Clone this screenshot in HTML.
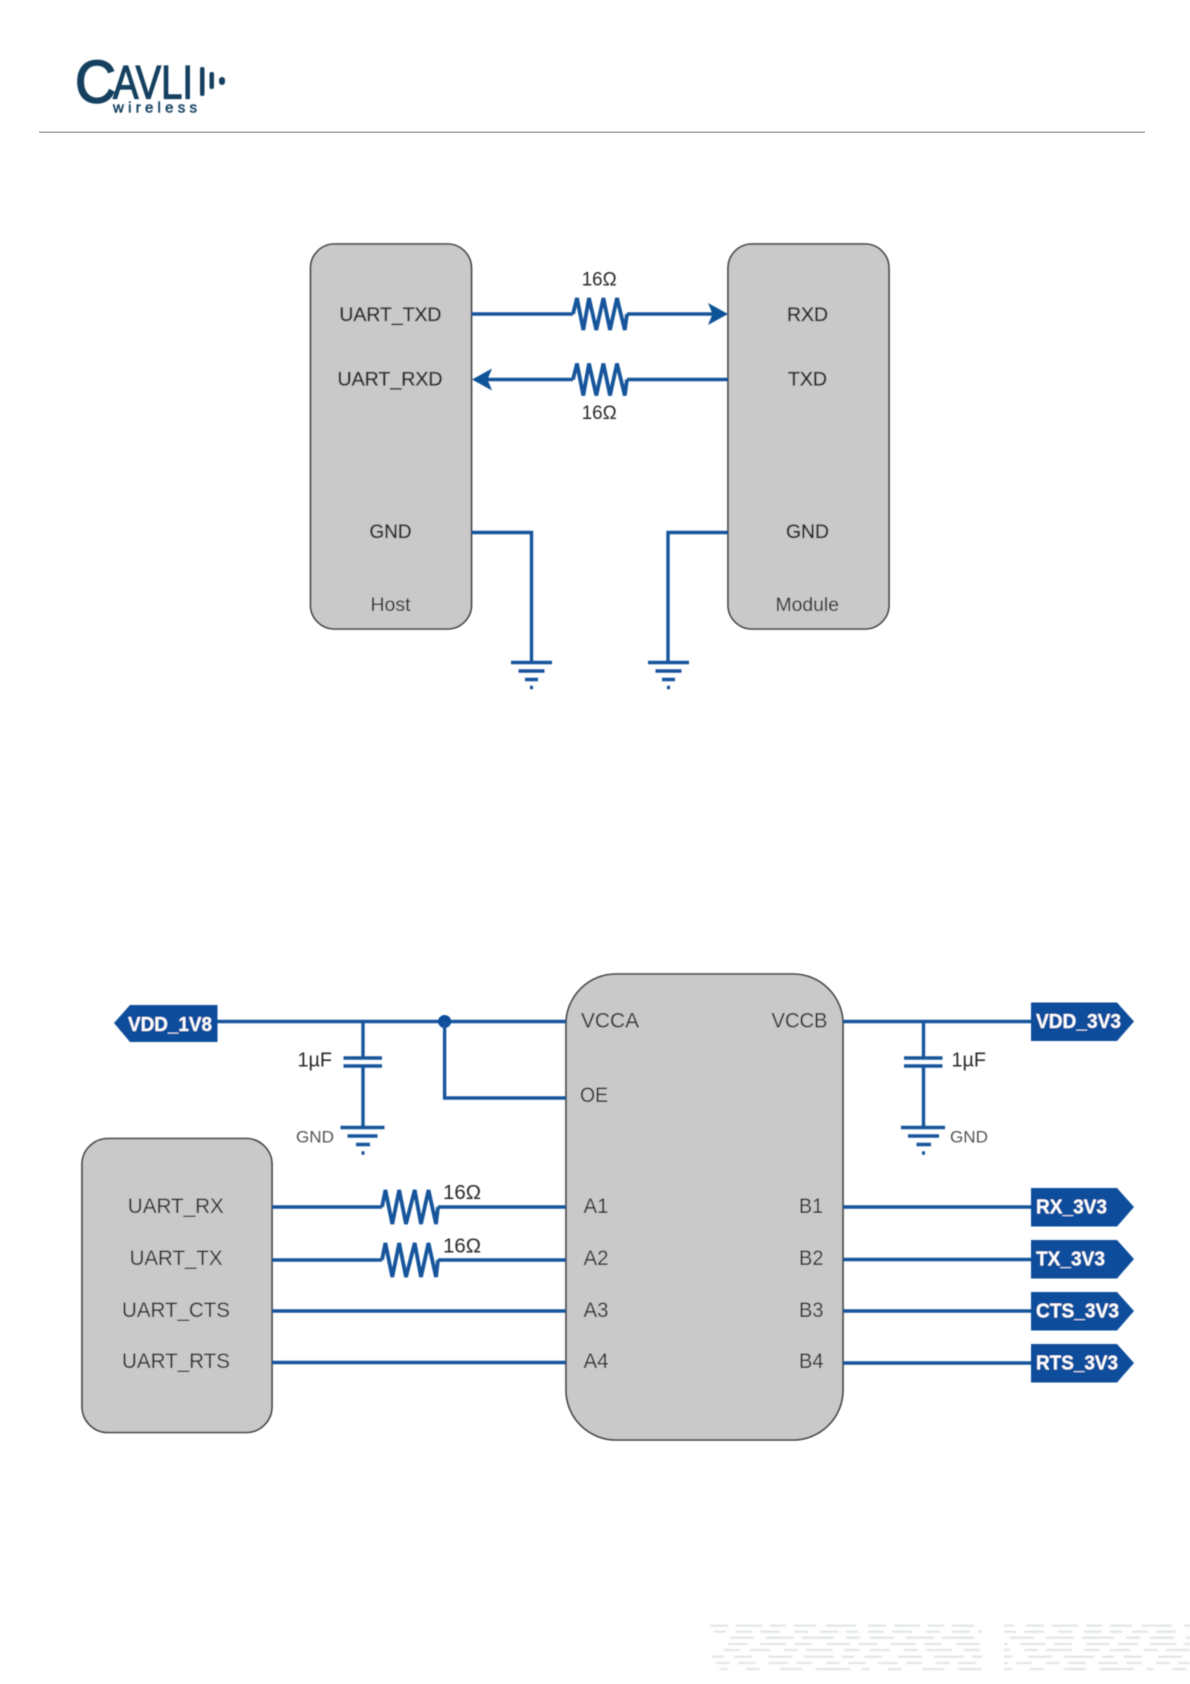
<!DOCTYPE html>
<html>
<head>
<meta charset="utf-8">
<style>
html,body{margin:0;padding:0;background:#fff;width:1190px;height:1684px;overflow:hidden}
svg{display:block}
text{font-family:"Liberation Sans",sans-serif;fill:#2a2a2a}
.top text{stroke:#222;stroke-width:.35}
.w{fill:none;stroke:#14559b;stroke-width:3.4;stroke-linejoin:miter}
.r{fill:none;stroke:#14559b;stroke-width:3.8;stroke-linejoin:miter}
.b{fill:#c9c9c9;stroke:#3a3a3a;stroke-width:1.6}
.t{fill:#0a4d9b}
.tt{fill:#fff;font-weight:bold;font-size:20px}
.g{stroke:#14559b;stroke-width:3.4;fill:none}
.l{fill:#123f5e;stroke:#123f5e}
</style>
</head>
<body>
<svg width="1190" height="1684" viewBox="0 0 1190 1684" xmlns="http://www.w3.org/2000/svg">
<defs><filter id="s" x="-5%" y="-5%" width="110%" height="110%"><feGaussianBlur stdDeviation="0.45"/></filter>
<filter id="f" x="-5%" y="-20%" width="110%" height="140%"><feGaussianBlur stdDeviation="0.8"/></filter></defs>

<!-- logo -->
<g filter="url(#s)">
<text class="l" stroke-width="1.6" x="75" y="102.5" font-size="60" textLength="41" lengthAdjust="spacingAndGlyphs" style="stroke-width:1.6px">C</text>
<text class="l" x="113" y="98.5" font-size="47" textLength="80" lengthAdjust="spacingAndGlyphs" style="stroke-width:1.2px">AVLI</text>
<rect x="200" y="67" width="4.5" height="29" rx="2" fill="#123f5e"/>
<rect x="209.5" y="72" width="4.5" height="17" rx="2" fill="#123f5e"/>
<rect x="219" y="77" width="6" height="8" rx="3" fill="#123f5e"/>
<text class="l" x="113" y="112.5" font-size="15" textLength="84" style="stroke-width:.5px">wireless</text>
</g>
<rect x="39" y="131.5" width="1106" height="1.5" fill="#aaaaaa"/>

<g filter="url(#s)">
<!-- top diagram -->
<rect class="b" x="310.5" y="244" width="161" height="385" rx="24"/>
<rect class="b" x="728" y="244" width="161" height="385" rx="24"/>

<path class="w" d="M471.5 314H573M627 314H716"/>
<path class="r" d="M573 314L577 298L583.3 330L589 298L596.3 330L603.4 298L610 330L617 298L624.8 330L627 314"/>
<path d="M728 314L708 303L712.5 314L708 325Z" fill="#0f5298"/>
<path class="w" d="M728 379.5H627M573 379.5H484"/>
<path class="r" d="M627 379.5L624.8 395.5L617 363.5L610 395.5L603.4 363.5L596.3 395.5L589 363.5L583.3 395.5L577 363.5L573 379.5"/>
<path d="M472 379.5L492 368.5L487.5 379.5L492 390.5Z" fill="#0f5298"/>

<path class="w" d="M471.5 532.5H531.5V662"/>
<path class="g" d="M511 662.5H552M518.5 671H544.5M525 679.5H538M530 687.5H533"/>
<path class="w" d="M728 532.5H668V662"/>
<path class="g" d="M648 662.5H689M655.5 671H681.5M662 679.5H675M667 687.5H670"/>

<g class="top">
<text x="339.4" y="321" font-size="19" textLength="102" lengthAdjust="spacingAndGlyphs">UART_TXD</text>
<text x="337.5" y="385.5" font-size="19" textLength="105" lengthAdjust="spacingAndGlyphs">UART_RXD</text>
<text x="369.5" y="538" font-size="19" textLength="42" lengthAdjust="spacingAndGlyphs">GND</text>
<text x="787" y="321" font-size="19" textLength="41" lengthAdjust="spacingAndGlyphs">RXD</text>
<text x="788" y="385.5" font-size="19" textLength="39" lengthAdjust="spacingAndGlyphs">TXD</text>
<text x="786" y="538" font-size="19" textLength="43" lengthAdjust="spacingAndGlyphs">GND</text>
</g>
<text x="370.5" y="611" font-size="19" textLength="40" lengthAdjust="spacingAndGlyphs">Host</text>
<text x="775.5" y="611" font-size="19" textLength="63.5" lengthAdjust="spacingAndGlyphs">Module</text>
<text x="581.7" y="285.5" font-size="19" textLength="35" lengthAdjust="spacingAndGlyphs">16Ω</text>
<text x="581.7" y="419" font-size="19" textLength="35" lengthAdjust="spacingAndGlyphs">16Ω</text>

<!-- bottom diagram -->
<rect class="b" x="82" y="1138.5" width="190" height="294" rx="26"/>
<rect class="b" x="566" y="974" width="277" height="466" rx="50"/>

<path class="w" d="M217 1021.5H566"/>
<circle cx="444.6" cy="1021.5" r="6.5" fill="#0a4d9b"/>
<path class="w" d="M444.6 1021.5V1098H566"/>
<path class="t" d="M114 1023L130 1005H217.5V1042H130Z"/>
<text class="tt" x="128" y="1031" textLength="84" lengthAdjust="spacingAndGlyphs">VDD_1V8</text>

<path class="w" d="M363 1021.5V1058M363 1066V1127"/>
<path class="g" d="M343.5 1058H382M343.5 1066H382"/>
<path class="g" d="M340.5 1127.5H384.5M347.5 1136H377.5M356 1144.5H370M361.5 1153H364.5"/>
<text x="297.5" y="1066.5" font-size="20" textLength="34.5" lengthAdjust="spacingAndGlyphs">1µF</text>
<text x="296" y="1142.5" font-size="16.5" textLength="38" lengthAdjust="spacingAndGlyphs" style="fill:#555">GND</text>

<path class="w" d="M923.5 1021.5V1058M923.5 1066V1127"/>
<path class="g" d="M904 1058H942.5M904 1066H942.5"/>
<path class="g" d="M901 1127.5H945M908 1136H939M916.5 1144.5H931M922 1153H925"/>
<text x="951.5" y="1066.5" font-size="20" textLength="34.5" lengthAdjust="spacingAndGlyphs">1µF</text>
<text x="950" y="1142.5" font-size="16.5" textLength="38" lengthAdjust="spacingAndGlyphs" style="fill:#555">GND</text>

<path class="w" d="M272 1207H382M438 1207H566M272 1260H382M438 1260H566"/>
<path class="r" d="M382 1207L385.4 1190L392.3 1224L399.2 1190L406 1224L414.7 1190L421 1224L428.5 1190L436 1224L438 1207"/>
<path class="r" d="M382 1260L385.4 1243L392.3 1277L399.2 1243L406 1277L414.7 1243L421 1277L428.5 1243L436 1277L438 1260"/>
<path class="w" d="M272 1311H566M272 1362.5H566"/>
<text x="443" y="1199" font-size="20" textLength="38" lengthAdjust="spacingAndGlyphs">16Ω</text>
<text x="443" y="1252.5" font-size="20" textLength="38" lengthAdjust="spacingAndGlyphs">16Ω</text>

<text x="127.8" y="1213" font-size="21" textLength="96" lengthAdjust="spacingAndGlyphs">UART_RX</text>
<text x="129.6" y="1265" font-size="21" textLength="93" lengthAdjust="spacingAndGlyphs">UART_TX</text>
<text x="122" y="1317" font-size="21" textLength="108" lengthAdjust="spacingAndGlyphs">UART_CTS</text>
<text x="122" y="1368" font-size="21" textLength="108" lengthAdjust="spacingAndGlyphs">UART_RTS</text>

<text x="581" y="1027.5" font-size="21" textLength="58" lengthAdjust="spacingAndGlyphs">VCCA</text>
<text x="580" y="1102" font-size="21" textLength="28" lengthAdjust="spacingAndGlyphs">OE</text>
<text x="583.5" y="1213" font-size="21" textLength="25" lengthAdjust="spacingAndGlyphs">A1</text>
<text x="583.5" y="1265" font-size="21" textLength="25" lengthAdjust="spacingAndGlyphs">A2</text>
<text x="583.5" y="1317" font-size="21" textLength="25" lengthAdjust="spacingAndGlyphs">A3</text>
<text x="583.5" y="1368" font-size="21" textLength="25" lengthAdjust="spacingAndGlyphs">A4</text>
<text x="771.5" y="1027.5" font-size="21" textLength="56" lengthAdjust="spacingAndGlyphs">VCCB</text>
<text x="799" y="1213" font-size="21" textLength="24" lengthAdjust="spacingAndGlyphs">B1</text>
<text x="799" y="1265" font-size="21" textLength="24.5" lengthAdjust="spacingAndGlyphs">B2</text>
<text x="799" y="1317" font-size="21" textLength="24.5" lengthAdjust="spacingAndGlyphs">B3</text>
<text x="799" y="1368" font-size="21" textLength="24.5" lengthAdjust="spacingAndGlyphs">B4</text>

<path class="w" d="M843 1021.5H1032M843 1207H1032M843 1259.5H1032M843 1311H1032M843 1363H1032"/>
<path class="t" d="M1031 1002.5H1117L1134 1021.5L1117 1041H1031Z"/>
<path class="t" d="M1031 1188H1117L1134 1207L1117 1226.5H1031Z"/>
<path class="t" d="M1031 1240H1117L1134 1259L1117 1278.5H1031Z"/>
<path class="t" d="M1031 1292H1117L1134 1311L1117 1330.5H1031Z"/>
<path class="t" d="M1031 1344H1117L1134 1363L1117 1382.5H1031Z"/>
<text class="tt" x="1036" y="1028" textLength="85" lengthAdjust="spacingAndGlyphs">VDD_3V3</text>
<text class="tt" x="1036" y="1213.5" textLength="71" lengthAdjust="spacingAndGlyphs">RX_3V3</text>
<text class="tt" x="1036" y="1265.5" textLength="69" lengthAdjust="spacingAndGlyphs">TX_3V3</text>
<text class="tt" x="1036" y="1317.5" textLength="83" lengthAdjust="spacingAndGlyphs">CTS_3V3</text>
<text class="tt" x="1036" y="1369.5" textLength="82" lengthAdjust="spacingAndGlyphs">RTS_3V3</text>
</g>

<!-- footer watermark -->
<g filter="url(#f)" stroke="#dde0e2" stroke-width="1.8" fill="none">
<path d="M710 1625.7H1190" stroke-dasharray="18 8 26 8 16 8 22 10 30 12"/>
<path d="M714 1631.7H1190" stroke-dasharray="12 10 16 8 20 14 14 12 18 8"/>
<path d="M730 1637.7H1190" stroke-dasharray="24 12 28 8 32 12 14 10"/>
<path d="M728 1644H1190" stroke-dasharray="20 12 26 8 18 14 24 8"/>
<path d="M724 1650H1190" stroke-dasharray="16 10 20 14 14 8 26 12"/>
<path d="M712 1656.7H1190" stroke-dasharray="12 10 18 16 24 12 30 8"/>
<path d="M716 1663H1190" stroke-dasharray="14 8 18 12 20 8 16 14"/>
<path d="M720 1669H1190" stroke-dasharray="8 18 14 20 22 14 34 12"/>
</g>
<rect x="982" y="1620" width="22" height="56" fill="#fff"/>
</svg>
</body>
</html>
